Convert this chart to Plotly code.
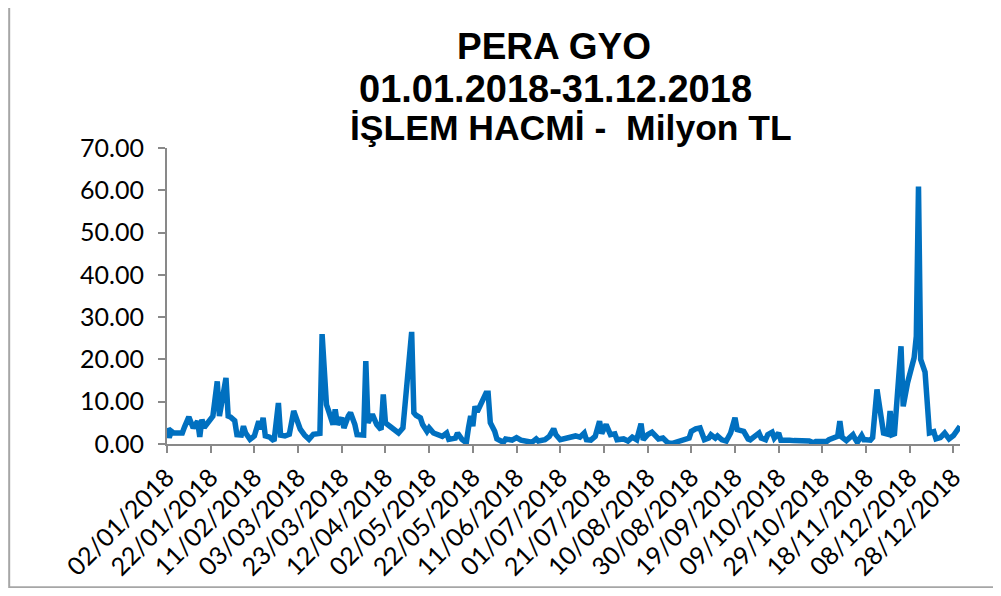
import plotly.graph_objects as go

# ---- data (trading volume, million TL) ----
dates = [
    # January
    "2018-01-02", "2018-01-03", "2018-01-04", "2018-01-05", "2018-01-08", "2018-01-09", "2018-01-10",
    "2018-01-12", "2018-01-14", "2018-01-16", "2018-01-17", "2018-01-18", "2018-01-19", "2018-01-21",
    "2018-01-23", "2018-01-25", "2018-01-26", "2018-01-29", "2018-01-30", "2018-01-31",
    # February
    "2018-02-01", "2018-02-02", "2018-02-03", "2018-02-05", "2018-02-06", "2018-02-07", "2018-02-09",
    "2018-02-11", "2018-02-13", "2018-02-14", "2018-02-15", "2018-02-16", "2018-02-18", "2018-02-20",
    "2018-02-22", "2018-02-23", "2018-02-25", "2018-02-27",
    # March
    "2018-03-01", "2018-03-02", "2018-03-04", "2018-03-06", "2018-03-08", "2018-03-10", "2018-03-13",
    "2018-03-14", "2018-03-16", "2018-03-17", "2018-03-19", "2018-03-20", "2018-03-21", "2018-03-23",
    "2018-03-24", "2018-03-26", "2018-03-27", "2018-03-29", "2018-03-30",
    # April
    "2018-04-02", "2018-04-03", "2018-04-04", "2018-04-05", "2018-04-06", "2018-04-08", "2018-04-09",
    "2018-04-10", "2018-04-11", "2018-04-12", "2018-04-14", "2018-04-16", "2018-04-18", "2018-04-20",
    "2018-04-21", "2018-04-22", "2018-04-23", "2018-04-24", "2018-04-25", "2018-04-26", "2018-04-28",
    "2018-04-29",
    # May
    "2018-05-01", "2018-05-02", "2018-05-04", "2018-05-06", "2018-05-08", "2018-05-10", "2018-05-11",
    "2018-05-14", "2018-05-15", "2018-05-17", "2018-05-19", "2018-05-20", "2018-05-21", "2018-05-22",
    "2018-05-23", "2018-05-24", "2018-05-25", "2018-05-26", "2018-05-27", "2018-05-28", "2018-05-29",
    "2018-05-30",
    # June
    "2018-06-01", "2018-06-02", "2018-06-05", "2018-06-06", "2018-06-09", "2018-06-11", "2018-06-13",
    "2018-06-15", "2018-06-18", "2018-06-20", "2018-06-21", "2018-06-24", "2018-06-26", "2018-06-28",
    "2018-06-29",
    # July
    "2018-07-01", "2018-07-04", "2018-07-06", "2018-07-08", "2018-07-10", "2018-07-12", "2018-07-13",
    "2018-07-15", "2018-07-17", "2018-07-19", "2018-07-20", "2018-07-22", "2018-07-24", "2018-07-26",
    "2018-07-27", "2018-07-30",
    # August
    "2018-08-01", "2018-08-03", "2018-08-05", "2018-08-07", "2018-08-08", "2018-08-10", "2018-08-12",
    "2018-08-14", "2018-08-15", "2018-08-17", "2018-08-19", "2018-08-21", "2018-08-23", "2018-08-25",
    "2018-08-28", "2018-08-29", "2018-08-30",
    # September
    "2018-09-01", "2018-09-03", "2018-09-04", "2018-09-05", "2018-09-07", "2018-09-08", "2018-09-10",
    "2018-09-11", "2018-09-13", "2018-09-15", "2018-09-17", "2018-09-19", "2018-09-20", "2018-09-23",
    "2018-09-25", "2018-09-26", "2018-09-28", "2018-09-30",
    # October
    "2018-10-01", "2018-10-03", "2018-10-04", "2018-10-06", "2018-10-07", "2018-10-09", "2018-10-10",
    "2018-10-12", "2018-10-14", "2018-10-16", "2018-10-19", "2018-10-21", "2018-10-23", "2018-10-25",
    "2018-10-26", "2018-10-29", "2018-10-31",
    # November
    "2018-11-01", "2018-11-04", "2018-11-05", "2018-11-06", "2018-11-07", "2018-11-09", "2018-11-12",
    "2018-11-13", "2018-11-14", "2018-11-16", "2018-11-17", "2018-11-18", "2018-11-20", "2018-11-21",
    "2018-11-23", "2018-11-25", "2018-11-26", "2018-11-28", "2018-11-29", "2018-11-30",
    # December
    "2018-12-01", "2018-12-04", "2018-12-05", "2018-12-07", "2018-12-10", "2018-12-11", "2018-12-12",
    "2018-12-13", "2018-12-15", "2018-12-17", "2018-12-19", "2018-12-20", "2018-12-22", "2018-12-24",
    "2018-12-26", "2018-12-28", "2018-12-29", "2018-12-31",
]

volume = [
    # January
    3.8, 1.5, 3.0, 2.6, 2.6, 2.6, 4.0,
    6.4, 3.8, 5.4, 1.7, 5.8, 3.9, 5.2,
    6.6, 14.8, 6.6, 15.6, 6.6, 6.4,
    # February
    6.0, 5.5, 2.2, 2.1, 4.2, 2.6, 1.1,
    1.9, 5.4, 3.5, 6.2, 1.9, 1.6, 0.7,
    9.7, 2.1, 1.9, 2.3,
    # March
    7.8, 6.4, 3.5, 2.1, 1.1, 2.3, 2.5,
    26.0, 9.3, 7.8, 4.6, 8.2, 4.6, 6.2,
    3.8, 6.6, 7.4, 4.6, 2.2,
    # April
    2.1, 19.6, 5.0, 5.8, 7.0, 4.6, 3.8,
    3.4, 11.7, 5.0, 4.2, 3.4, 2.6, 3.8,
    9.0, 14.5, 20.0, 26.5, 7.4, 6.8, 6.2,
    4.6,
    # May
    3.0, 3.8, 2.6, 2.2, 1.8, 2.6, 1.1,
    1.4, 2.6, 1.1, 0.3, 3.8, 6.6, 4.2,
    8.9, 7.6, 8.6, 9.8, 11.0, 12.0, 12.0,
    5.0,
    # June
    3.0, 1.2, 0.4, 1.2, 0.9, 1.5, 0.9,
    0.6, 0.4, 1.2, 0.7, 1.0, 1.8, 3.6,
    2.2,
    # July
    1.0, 1.4, 1.9, 1.9, 1.6, 2.6, 1.0,
    0.9, 1.8, 5.4, 2.5, 4.6, 2.2, 2.4,
    1.0, 1.2,
    # August
    0.7, 1.6, 1.0, 4.8, 1.0, 2.2, 2.8,
    1.8, 1.2, 1.4, 0.4, 0.1, 0.4, 0.7,
    1.0, 1.4, 3.0,
    # September
    3.6, 3.8, 1.8, 1.0, 1.4, 2.2, 1.4,
    1.9, 1.0, 0.7, 2.6, 6.2, 3.4, 3.0,
    1.2, 1.0, 1.8, 2.6,
    # October
    1.4, 1.0, 2.2, 2.8, 1.4, 2.6, 0.9,
    1.0, 0.9, 0.8, 0.8, 0.9, 0.7, 0.3,
    0.6, 0.6, 0.6,
    # November
    1.0, 1.4, 1.8, 5.4, 1.6, 0.8, 2.2,
    1.2, 0.4, 2.0, 1.0, 1.0, 0.9, 1.5,
    12.9, 6.0, 2.6, 2.3, 7.8, 2.2,
    # December
    2.4, 23.1, 8.9, 14.5, 20.4, 25.5, 60.9,
    20.0, 17.0, 2.6, 2.9, 1.2, 1.5, 2.6,
    1.2, 2.0, 2.6, 4.2,
]

title_lines = ["PERA GYO", "01.01.2018-31.12.2018", "İŞLEM HACMİ - \u00a0Milyon TL"]
x_range = ["2018-01-02", "2018-12-31"]
x_tick_start = "2018-01-02"
x_tick_step_days = 20
y_ticks = [0, 10, 20, 30, 40, 50, 60, 70]

LINE_BLUE = "#0070C0"
AXIS_GRAY = "#898989"
TICK_FONT = dict(family="Lato, Carlito, Calibri, sans-serif", size=25, color="#000000")

fig = go.Figure()
fig.add_trace(go.Scatter(
    x=dates, y=volume, mode="lines",
    line=dict(color=LINE_BLUE, width=5.5),
    hoverinfo="x+y", showlegend=False,
))

# page body has an 8px margin, so the figure is sized to fit inside it
fig.update_layout(
    width=985, height=580, autosize=False,
    margin=dict(l=159, r=33, t=140, b=144, pad=0),
    paper_bgcolor="#FFFFFF", plot_bgcolor="#FFFFFF",
    showlegend=False,
)

fig.update_xaxes(
    type="date", range=x_range,
    tick0=x_tick_start, dtick=x_tick_step_days * 86400000,
    tickformat="%d/%m/%Y", tickangle=-45,
    ticks="outside", ticklen=7, tickwidth=2, tickcolor=AXIS_GRAY,
    showline=True, linecolor=AXIS_GRAY, linewidth=2,
    showgrid=False, zeroline=False, automargin=False,
    tickfont=TICK_FONT,
)
fig.update_yaxes(
    range=[0, 70], tickvals=y_ticks, tickformat=".2f",
    ticks="outside", ticklen=7, tickwidth=2, tickcolor=AXIS_GRAY,
    showline=True, linecolor=AXIS_GRAY, linewidth=2,
    showgrid=False, zeroline=False, automargin=False,
    tickfont=TICK_FONT, ticklabelstandoff=9,
)

# three-line bold title
title_family = "Liberation Sans, Arial, sans-serif"
title_sizes = [37, 38, 35.5]
title_pos = [(0.488, 1.342), (0.490, 1.200), (0.509, 1.068)]
for text, size, (tx, ty) in zip(title_lines, title_sizes, title_pos):
    fig.add_annotation(
        text=f"<b>{text}</b>", xref="paper", yref="paper", x=tx, y=ty,
        xanchor="center", yanchor="middle", showarrow=False,
        font=dict(family=title_family, size=size, color="#000000"),
    )

# chart frame (left and bottom edges visible in the reference)
fig.add_shape(
    type="rect", xref="paper", yref="paper",
    x0=-0.199, x1=1.06, y0=-0.484, y1=1.6,
    line=dict(color="#A6A6A6", width=2), fillcolor="rgba(0,0,0,0)", layer="below",
)

fig.write_html("out.html")
